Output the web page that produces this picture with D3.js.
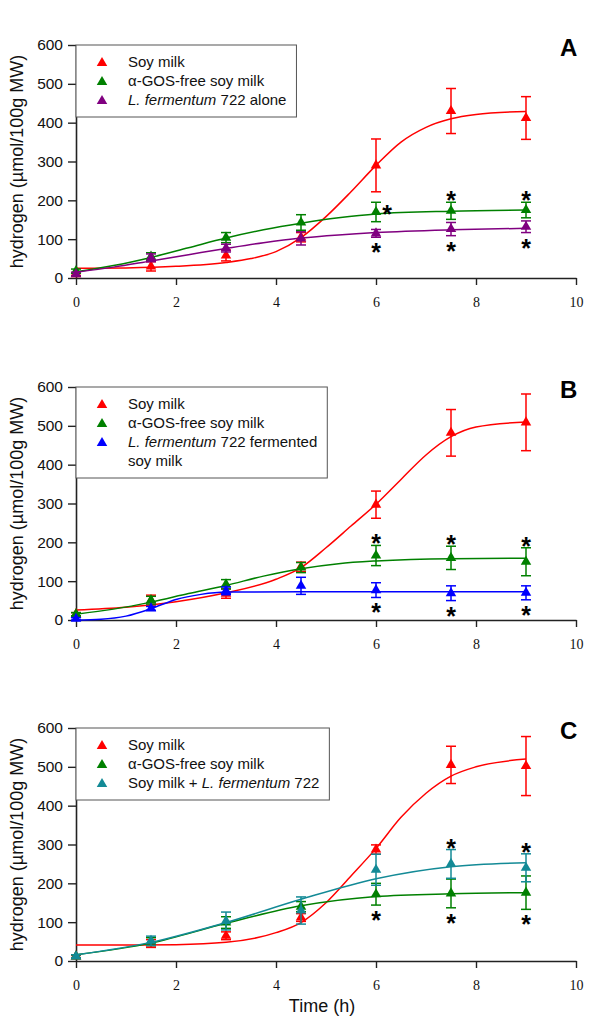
<!DOCTYPE html>
<html><head><meta charset="utf-8">
<script src="https://cdn.jsdelivr.net/npm/d3@7"></script>
<style>body{margin:0;background:#fff}</style>
</head><body>
<svg id="chart" width="600" height="1031"></svg>
<script>
// ---------- data ----------
const times = [0, 1.5, 3, 4.5, 6, 7.5, 9];
const xTicks = [0, 2, 4, 6, 8, 10];
const yTicks = [0, 100, 200, 300, 400, 500, 600];
const panelLetters = ["A", "B", "C"];

// Panel A
const aSoy = [10, 30, 58, 105, 290, 430, 412];
const aSoyErr = [3, 12, 14, 12, 68, 58, 55];
const aFree = [18, 55, 104, 143, 170, 173, 175];
const aFreeErr = [5, 10, 13, 20, 25, 22, 20];
const aLf = [10, 52, 77, 102, 115, 126, 132];
const aLfErr = [5, 10, 10, 17, 10, 17, 15];
const aSoyFitT = [0, 1, 2, 3, 3.5, 4, 4.5, 5, 5.5, 6, 6.5, 7, 7.5, 8, 9];
const aSoyFit = [25, 26, 30, 40, 50, 68, 104, 158, 222, 290, 350, 388, 410, 421, 429];
const aFreeFitT = [0, 0.75, 1.5, 2.25, 3, 3.75, 4.5, 5.25, 6, 7.5, 9];
const aFreeFit = [16, 32, 53, 78, 103, 124, 141, 155, 165, 172, 175];
const aLfFitT = [0, 0.75, 1.5, 2.25, 3, 3.75, 4.5, 5.25, 6, 7.5, 9];
const aLfFit = [15, 28, 44, 60, 76, 91, 103, 111, 117, 124, 128];

// Panel B
const bSoy = [15, 50, 68, 137, 297, 482, 509];
const bSoyErr = [4, 14, 12, 12, 35, 60, 73];
const bFree = [15, 51, 92, 135, 166, 160, 150];
const bFreeErr = [4, 10, 12, 13, 26, 30, 36];
const bLf = [3, 30, 75, 88, 77, 69, 70];
const bLfErr = [3, 5, 10, 22, 19, 19, 18];
const bSoyFitT = [0, 1, 2, 3, 4, 4.5, 5, 5.5, 6, 6.5, 7, 7.5, 8, 9];
const bSoyFit = [26, 33, 47, 70, 105, 135, 186, 242, 298, 362, 425, 472, 497, 510];
const bFreeFitT = [0, 0.75, 1.5, 2.25, 3, 3.75, 4.5, 5.25, 6, 7.5, 9];
const bFreeFit = [15, 28, 46, 68, 89, 113, 132, 145, 152, 158, 159];
const bLfFitT = [0, 0.5, 1, 1.5, 2, 2.5, 3, 4.5, 6, 7.5, 9];
const bLfFit = [0, 2, 10, 29, 53, 66, 72, 73, 73, 73, 73];

// Panel C
const cSoy = [12, 45, 65, 112, 287, 505, 502];
const cSoyErr = [3, 10, 10, 10, 12, 48, 76];
const cFree = [12, 50, 99, 140, 172, 174, 176];
const cFreeErr = [4, 10, 15, 13, 28, 37, 43];
const cLf = [12, 52, 103, 130, 235, 250, 240];
const cLfErr = [4, 12, 23, 35, 40, 37, 36];
const cSoyFitT = [0, 1, 2, 3, 4, 4.5, 5, 5.5, 6, 6.5, 7, 7.5, 8, 9];
const cSoyFit = [41, 41, 42, 48, 73, 99, 150, 219, 290, 370, 432, 476, 500, 520];
const cFreeFitT = [0, 1.5, 3, 4.5, 6, 7.5, 9];
const cFreeFit = [16, 46, 97, 142, 166, 173, 176];
const cLfFitT = [0, 1.5, 3, 4.5, 6, 7.5, 9];
const cLfFit = [16, 48, 99, 159, 212, 243, 253];

// legend labels (segments: [text, italic])
const lgSoy = [["Soy milk", false]];
const lgFree = [["\u03b1-GOS-free soy milk", false]];
const lgA3 = [["L. fermentum", true], [" 722 alone", false]];
const lgB3 = [["L. fermentum", true], [" 722 fermented", false]];
const lgB3b = [["soy milk", false]];
const lgC3 = [["Soy milk + ", false], ["L. fermentum", true], [" 722", false]];

// significance stars: [series index, time index, position]
const starsA = [[1, 4, "right"], [1, 5, "above"], [1, 6, "above"], [2, 4, "below"], [2, 5, "below"], [2, 6, "below"]];
const starsB = [[1, 4, "above"], [1, 5, "above"], [1, 6, "above"], [2, 4, "below"], [2, 5, "below"], [2, 6, "below"]];
const starsC = [[2, 5, "above"], [2, 6, "above"], [1, 4, "below"], [1, 5, "below"], [1, 6, "below"]];

const colors = { red: "#ff0000", green: "#008000", purple: "#800080", blue: "#0000ff", teal: "#138a96" };

const panels = [
  { letter: panelLetters[0], top: 45, stars: starsA, legendRows: [[lgSoy], [lgFree], [lgA3]],
    series: [
      { c: colors.red, v: aSoy, e: aSoyErr, ft: aSoyFitT, f: aSoyFit },
      { c: colors.green, v: aFree, e: aFreeErr, ft: aFreeFitT, f: aFreeFit },
      { c: colors.purple, v: aLf, e: aLfErr, ft: aLfFitT, f: aLfFit }] },
  { letter: panelLetters[1], top: 387, stars: starsB, legendRows: [[lgSoy], [lgFree], [lgB3, lgB3b]],
    series: [
      { c: colors.red, v: bSoy, e: bSoyErr, ft: bSoyFitT, f: bSoyFit },
      { c: colors.green, v: bFree, e: bFreeErr, ft: bFreeFitT, f: bFreeFit },
      { c: colors.blue, v: bLf, e: bLfErr, ft: bLfFitT, f: bLfFit }] },
  { letter: panelLetters[2], top: 728, stars: starsC, legendRows: [[lgSoy], [lgFree], [lgC3]],
    series: [
      { c: colors.red, v: cSoy, e: cSoyErr, ft: cSoyFitT, f: cSoyFit },
      { c: colors.green, v: cFree, e: cFreeErr, ft: cFreeFitT, f: cFreeFit },
      { c: colors.teal, v: cLf, e: cLfErr, ft: cLfFitT, f: cLfFit }] }
];

// ---------- drawing ----------
const svg = d3.select("#chart");
const plotH = 233;
const x = d3.scaleLinear().domain([0, 10]).range([76, 576]);
const tri = d3.symbol().type(d3.symbolTriangle).size(48);
const sans = "Arial, 'Liberation Sans', sans-serif";

panels.forEach(p => {
  const y = d3.scaleLinear().domain([0, 600]).range([p.top + plotH, p.top]);
  const g = svg.append("g");

  // axes
  const ya = g.append("g").attr("transform", "translate(76,0)")
    .call(d3.axisLeft(y).tickValues(yTicks).tickSize(8).tickPadding(5).tickSizeOuter(0));
  ya.attr("font-size", null).attr("font-family", null);
  ya.selectAll("text").attr("font-family", sans).attr("font-size", 15.5).attr("fill", "#111");
  const xa = g.append("g").attr("transform", `translate(0,${p.top + plotH})`)
    .call(d3.axisBottom(x).tickValues(xTicks).tickSize(7).tickPadding(12).tickSizeOuter(0));
  xa.attr("font-size", null).attr("font-family", null);
  xa.selectAll("text").attr("font-family", "'Liberation Serif', 'Times New Roman', serif").attr("font-size", 14).attr("fill", "#111");
  [ya, xa].forEach(a => {
    a.select(".domain").attr("stroke", "#222").attr("stroke-width", 1.6);
    a.selectAll(".tick line").attr("stroke", "#222").attr("stroke-width", 1.4);
  });

  // y label
  g.append("text").attr("transform", `translate(23,${p.top + plotH / 2}) rotate(-90)`)
    .attr("text-anchor", "middle").attr("font-family", sans).attr("font-size", 18).attr("fill", "#111")
    .text("hydrogen (\u00b5mol/100g MW)");

  // panel letter
  g.append("text").attr("x", 560).attr("y", p.top + 11).attr("font-family", sans)
    .attr("font-weight", "bold").attr("font-size", 24).attr("fill", "#000").text(p.letter);

  // series
  const line = d3.line().x(d => x(d[0])).y(d => y(d[1])).curve(d3.curveMonotoneX);
  p.series.forEach(s => {
    const fitPts = s.ft.map((t, i) => [t, s.f[i]]);
    g.append("path").attr("d", line(fitPts)).attr("fill", "none").attr("stroke", s.c).attr("stroke-width", 1.5);
    const pts = times.map((t, i) => ({ t, v: s.v[i], e: s.e[i] }));
    const eg = g.append("g").attr("stroke", s.c).attr("stroke-width", 1.5);
    pts.forEach(d => {
      const cx = x(d.t), y1 = y(d.v + d.e), y0 = y(Math.max(0, d.v - d.e));
      eg.append("line").attr("x1", cx).attr("x2", cx).attr("y1", y1).attr("y2", y0);
      eg.append("line").attr("x1", cx - 5).attr("x2", cx + 5).attr("y1", y1).attr("y2", y1);
      eg.append("line").attr("x1", cx - 5).attr("x2", cx + 5).attr("y1", y0).attr("y2", y0);
    });
    g.append("g").selectAll("path").data(pts).join("path")
      .attr("d", tri).attr("fill", s.c)
      .attr("transform", d => `translate(${x(d.t)},${y(d.v)})`);
  });

  // stars
  p.stars.forEach(([si, ti, pos]) => {
    const s = p.series[si];
    let cx = x(times[ti]), cy;
    if (pos === "above") cy = y(s.v[ti] + s.e[ti]) - 7;
    else if (pos === "below") cy = y(s.v[ti] - s.e[ti]) + 10;
    else { cx += 11; cy = y(s.v[ti]) - 3; }
    g.append("text").attr("x", cx).attr("y", cy + 14).attr("text-anchor", "middle")
      .attr("font-family", sans).attr("font-weight", "bold").attr("font-size", 25).attr("fill", "#000").text("*");
  });

  // legend
  const lg = g.append("g");
  const box = lg.append("rect").attr("x", 76).attr("y", p.top).attr("fill", "#fff")
    .attr("stroke", "#555").attr("stroke-width", 1);
  let rowY = p.top + 17, maxW = 0;
  p.legendRows.forEach((lines, ri) => {
    lg.append("path").attr("d", tri).attr("fill", p.series[ri].c)
      .attr("transform", `translate(102,${rowY + 1})`);
    lines.forEach((segs, li) => {
      const t = lg.append("text").attr("x", 128).attr("y", rowY + 5).attr("font-family", sans)
        .attr("font-size", 15).attr("fill", "#111");
      segs.forEach(([txt, it]) => t.append("tspan").attr("font-style", it ? "italic" : "normal").text(txt));
      maxW = Math.max(maxW, t.node().getComputedTextLength());
      rowY += 19;
    });
  });
  box.attr("width", 128 - 76 + maxW + 10).attr("height", rowY - p.top - 2);
});

// x axis title
svg.append("text").attr("x", 322).attr("y", 1012).attr("text-anchor", "middle")
  .attr("font-family", sans).attr("font-size", 18).attr("fill", "#111").text("Time (h)");
</script>
</body></html>
